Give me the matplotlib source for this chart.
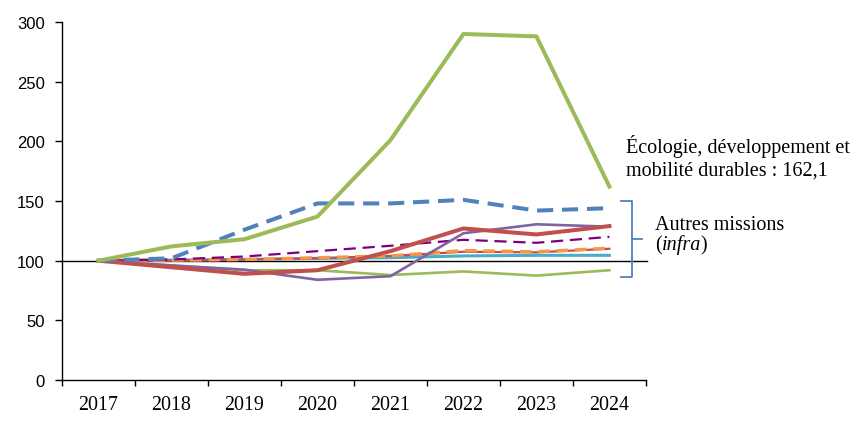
import matplotlib
matplotlib.use("Agg")
import matplotlib.pyplot as plt
from matplotlib.lines import Line2D

# Indices base 100 en 2017
years = ["2017", "2018", "2019", "2020", "2021", "2022", "2023", "2024"]
ecologie = [100, 112, 118, 137, 201, 290, 288, 162.1]
bleu_tirets = [100, 102, 126, 148, 148, 151, 142, 144]
rouge = [100, 94.5, 89, 92, 108, 127, 122, 129]
violet = [100, 96, 92.5, 84, 87, 123, 130.5, 128.5]
vert_fin = [100, 96, 92, 92, 88, 91, 87.5, 92]
violet_tirets = [100, 101, 103.5, 108, 112.5, 117.5, 115, 120]
orange_tirets = [100, 100.5, 101, 102.5, 104, 108.5, 107.5, 110.5]
rouge_fin = [100, 100, 101, 102, 104, 107.5, 107, 110]
cyan = [100, 100.5, 101, 102, 102.5, 104, 104.5, 104.5]

yticks = [0, 50, 100, 150, 200, 250, 300]

SERIF = "Liberation Serif"
SANS = "Liberation Sans"
FS_NOTE = 14.5

fig = plt.figure(figsize=(8.67, 4.27), dpi=100)
ax = fig.add_axes([0.0715, 0.1077, 0.6735, 0.8383])

x = list(range(len(years)))

ax.axhline(100, color="black", lw=1.0, zorder=1, xmax=1.002, clip_on=False)

ax.plot(x, cyan, color="#4BACC6", lw=2.2, zorder=2)
ax.plot(x, rouge_fin, color="#C0504D", lw=1.6, zorder=2)
ax.plot(x, orange_tirets, color="#F79646", lw=2.4, dashes=(3.5, 2), zorder=3)
ax.plot(x, violet_tirets, color="#7F007F", lw=1.6, dashes=(5.5, 3), zorder=3)
ax.plot(x, vert_fin, color="#9BBB59", lw=1.9, zorder=3)
ax.plot(x, violet, color="#8064A2", lw=1.9, zorder=4)
ax.plot(x, rouge, color="#C0504D", lw=2.9, zorder=4)
ax.plot(x, bleu_tirets, color="#4F81BD", lw=2.9, dashes=(4, 2.2), zorder=5)
ax.plot(x, ecologie, color="#9BBB59", lw=2.9, zorder=6)

ax.set_xlim(-0.5, len(years) - 0.5)
ax.set_ylim(0, 300)
ax.set_yticks(yticks)
ax.set_yticklabels([str(v) for v in yticks], fontfamily=SANS, fontsize=12)
ax.set_xticks(x)
ax.set_xticklabels(years, fontfamily=SERIF, fontsize=14.4)
ax.set_xticks([i - 0.5 for i in range(len(years) + 1)], minor=True)
ax.tick_params(axis="x", which="major", length=0, pad=11)
ax.tick_params(axis="x", which="minor", length=4.2, width=1, direction="out")
ax.tick_params(axis="y", length=5.3, width=1, direction="out", pad=7)

for s in ["top", "right"]:
    ax.spines[s].set_visible(False)
for s in ["left", "bottom"]:
    ax.spines[s].set_linewidth(1.0)
    ax.spines[s].set_color("black")

# accolade "Autres missions"
bx, hook, tick = 7.31, 7.16, 7.44
btop, bbot = 150, 86.3
bmid = (btop + bbot) / 2
accolade = dict(color="#4F81BD", lw=1.3, clip_on=False)
ax.add_line(Line2D([hook, bx, bx, hook], [btop, btop, bbot, bbot], **accolade))
ax.add_line(Line2D([bx, tick], [bmid, bmid], **accolade))

note = dict(fontfamily=SERIF, fontsize=FS_NOTE, va="baseline", ha="left")
ax.text(7.226, 191, "Écologie, développement et", **note)
ax.text(7.226, 171.8, "mobilité durables : 162,1", **note)
ax.text(7.62, 126.5, "Autres missions", **note)
t0 = ax.text(7.62, 109.5, "(", **note)
fig.canvas.draw()
inv = ax.transData.inverted()
x1 = inv.transform((t0.get_window_extent().x1, 0))[0]
t1 = ax.text(x1, 109.5, "infra", style="italic", **note)
fig.canvas.draw()
x2 = inv.transform((t1.get_window_extent().x1, 0))[0]
ax.text(x2, 109.5, ")", **note)

fig.savefig("out.png", dpi=100)
